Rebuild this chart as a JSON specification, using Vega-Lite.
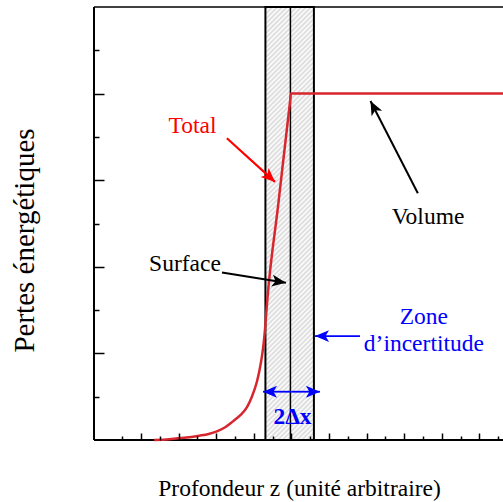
{
  "$schema": "https://vega.github.io/schema/vega-lite/v6.json",
  "usermeta": {"embedOptions": {"actions": false}},
  "width": 409,
  "height": 433,
  "autosize": {"type": "none"},
  "padding": {"left": 94, "top": 7, "right": 0, "bottom": 62},
  "background": "white",
  "config": {
    "view": {"stroke": null},
    "axis": {"grid": false, "domain": false},
    "axisRight": {"domain": false, "ticks": false, "labels": false, "title": null},
    "axisTop": {"domain": false, "ticks": false, "labels": false, "title": null}
  },
  "datasets": {
    "courbe": [
      {"z": 2.7, "p": 0}, {"z": 3.5, "p": 0.02}, {"z": 4.3, "p": 0.05}, {"z": 5.1, "p": 0.1},
      {"z": 5.6, "p": 0.14}, {"z": 6.04, "p": 0.2}, {"z": 6.5, "p": 0.3}, {"z": 6.89, "p": 0.43},
      {"z": 7.3, "p": 0.58}, {"z": 7.64, "p": 0.76}, {"z": 7.9, "p": 1.0}, {"z": 8.17, "p": 1.35},
      {"z": 8.31, "p": 1.62}, {"z": 8.44, "p": 1.95}, {"z": 8.53, "p": 2.25}, {"z": 8.6, "p": 2.56},
      {"z": 8.66, "p": 2.9}, {"z": 8.72, "p": 3.23}, {"z": 9.3, "p": 5.43}, {"z": 9.95, "p": 7.89},
      {"z": 9.98, "p": 8.0}, {"z": 21.26, "p": 8.0}
    ],
    "zone": [{"z": 8.62, "z2": 11.2, "p": 0, "p2": 10}],
    "centre": [{"z": 9.95, "p": 0, "p2": 10}],
    "cadre": [{"z": -0.5, "z2": 21.26, "p": 10}],
    "bordgauche": [{"z": -0.5, "p": 0, "p2": 10}],
    "bordbas": [{"z": -0.5, "z2": 21.26, "p": 0}],
    "fleches": [
      {"g": "total", "z0": 6.57, "p0": 6.97, "z": 9.13, "p": 5.96},
      {"g": "noir", "z0": 6.31, "p0": 3.87, "z": 9.71, "p": 3.63},
      {"g": "noir", "z0": 16.73, "p0": 5.7, "z": 14.21, "p": 7.83},
      {"g": "bleu", "z0": 13.65, "p0": 2.4, "z": 11.26, "p": 2.4},
      {"g": "bleu", "z0": 10.01, "p0": 1.115, "z": 8.49, "p": 1.115},
      {"g": "bleu", "z0": 10.01, "p0": 1.115, "z": 11.52, "p": 1.115}
    ],
    "textes": [
      {"texte": "Total", "z": 4.74, "p": 7.09, "g": "total"},
      {"texte": "Surface", "z": 4.34, "p": 3.9, "g": "noir"},
      {"texte": "Volume", "z": 17.27, "p": 4.99, "g": "noir"},
      {"texte": "Zone", "z": 17.05, "p": 2.68, "g": "bleu"},
      {"texte": "d’incertitude", "z": 17.05, "p": 2.06, "g": "bleu"}
    ],
    "largeur": [{"texte": "2Δx", "z": 10.06, "p": 0.37, "g": "bleu"}]
  },
  "encoding": {
    "x": {
      "field": "z", "type": "quantitative",
      "scale": {"domain": [-0.5, 21.26], "nice": false, "zero": false},
      "axis": {
        "title": "Profondeur z (unité arbitraire)", "orient": "bottom",
        "values": [1,2,3,4,5,6,7,8,9,10,11,12,13,14,15,16,17,18,19,20,21],
        "labels": false, "grid": false, "domain": false, "zindex": 1,
        "tickColor": "black", "tickWidth": 1.5,
        "tickSize": {"condition": {"test": "datum.value % 2 === 0", "value": -7}, "value": -4},
        "titleFont": "Liberation Serif", "titleFontSize": 23.5, "titleFontWeight": "normal",
        "titleColor": "black", "titleX": 205, "titleY": 55, "titleAlign": "center", "titleBaseline": "alphabetic"
      }
    },
    "y": {
      "field": "p", "type": "quantitative",
      "scale": {"domain": [0, 10], "nice": false, "zero": false},
      "axis": {
        "title": "Pertes énergétiques", "orient": "left",
        "values": [1,2,3,4,5,6,7,8,9],
        "labels": false, "grid": false, "domain": false, "zindex": 1,
        "tickColor": "black", "tickWidth": 1.5,
        "tickSize": {"condition": {"test": "datum.value % 2 === 0", "value": -10}, "value": -5},
        "titleFont": "Liberation Serif", "titleFontSize": 29, "titleFontWeight": "normal",
        "titleColor": "black", "titleAngle": -90, "titleX": -60.7, "titleY": 233,
        "titleAlign": "center", "titleBaseline": "alphabetic"
      }
    }
  },
  "layer": [
    {
      "data": {"name": "zone"},
      "mark": {"type": "rect", "stroke": "black", "strokeWidth": 2,
        "fill": {"gradient": "linear", "x1": 0, "y1": 0, "x2": 0.123, "y2": 1.098, "stops": [
          {"offset":0,"color":"#ffffff"},{"offset":0.005,"color":"#d8d8d8"},{"offset":0.01,"color":"#ffffff"},{"offset":0.015,"color":"#d8d8d8"},{"offset":0.02,"color":"#ffffff"},{"offset":0.025,"color":"#d8d8d8"},{"offset":0.03,"color":"#ffffff"},{"offset":0.035,"color":"#d8d8d8"},{"offset":0.04,"color":"#ffffff"},{"offset":0.045,"color":"#d8d8d8"},
          {"offset":0.05,"color":"#ffffff"},{"offset":0.055,"color":"#d8d8d8"},{"offset":0.06,"color":"#ffffff"},{"offset":0.065,"color":"#d8d8d8"},{"offset":0.07,"color":"#ffffff"},{"offset":0.075,"color":"#d8d8d8"},{"offset":0.08,"color":"#ffffff"},{"offset":0.085,"color":"#d8d8d8"},{"offset":0.09,"color":"#ffffff"},{"offset":0.095,"color":"#d8d8d8"},
          {"offset":0.1,"color":"#ffffff"},{"offset":0.105,"color":"#d8d8d8"},{"offset":0.11,"color":"#ffffff"},{"offset":0.115,"color":"#d8d8d8"},{"offset":0.12,"color":"#ffffff"},{"offset":0.125,"color":"#d8d8d8"},{"offset":0.13,"color":"#ffffff"},{"offset":0.135,"color":"#d8d8d8"},{"offset":0.14,"color":"#ffffff"},{"offset":0.145,"color":"#d8d8d8"},
          {"offset":0.15,"color":"#ffffff"},{"offset":0.155,"color":"#d8d8d8"},{"offset":0.16,"color":"#ffffff"},{"offset":0.165,"color":"#d8d8d8"},{"offset":0.17,"color":"#ffffff"},{"offset":0.175,"color":"#d8d8d8"},{"offset":0.18,"color":"#ffffff"},{"offset":0.185,"color":"#d8d8d8"},{"offset":0.19,"color":"#ffffff"},{"offset":0.195,"color":"#d8d8d8"},
          {"offset":0.2,"color":"#ffffff"},{"offset":0.205,"color":"#d8d8d8"},{"offset":0.21,"color":"#ffffff"},{"offset":0.215,"color":"#d8d8d8"},{"offset":0.22,"color":"#ffffff"},{"offset":0.225,"color":"#d8d8d8"},{"offset":0.23,"color":"#ffffff"},{"offset":0.235,"color":"#d8d8d8"},{"offset":0.24,"color":"#ffffff"},{"offset":0.245,"color":"#d8d8d8"},
          {"offset":0.25,"color":"#ffffff"},{"offset":0.255,"color":"#d8d8d8"},{"offset":0.26,"color":"#ffffff"},{"offset":0.265,"color":"#d8d8d8"},{"offset":0.27,"color":"#ffffff"},{"offset":0.275,"color":"#d8d8d8"},{"offset":0.28,"color":"#ffffff"},{"offset":0.285,"color":"#d8d8d8"},{"offset":0.29,"color":"#ffffff"},{"offset":0.295,"color":"#d8d8d8"},
          {"offset":0.3,"color":"#ffffff"},{"offset":0.305,"color":"#d8d8d8"},{"offset":0.31,"color":"#ffffff"},{"offset":0.315,"color":"#d8d8d8"},{"offset":0.32,"color":"#ffffff"},{"offset":0.325,"color":"#d8d8d8"},{"offset":0.33,"color":"#ffffff"},{"offset":0.335,"color":"#d8d8d8"},{"offset":0.34,"color":"#ffffff"},{"offset":0.345,"color":"#d8d8d8"},
          {"offset":0.35,"color":"#ffffff"},{"offset":0.355,"color":"#d8d8d8"},{"offset":0.36,"color":"#ffffff"},{"offset":0.365,"color":"#d8d8d8"},{"offset":0.37,"color":"#ffffff"},{"offset":0.375,"color":"#d8d8d8"},{"offset":0.38,"color":"#ffffff"},{"offset":0.385,"color":"#d8d8d8"},{"offset":0.39,"color":"#ffffff"},{"offset":0.395,"color":"#d8d8d8"},
          {"offset":0.4,"color":"#ffffff"},{"offset":0.405,"color":"#d8d8d8"},{"offset":0.41,"color":"#ffffff"},{"offset":0.415,"color":"#d8d8d8"},{"offset":0.42,"color":"#ffffff"},{"offset":0.425,"color":"#d8d8d8"},{"offset":0.43,"color":"#ffffff"},{"offset":0.435,"color":"#d8d8d8"},{"offset":0.44,"color":"#ffffff"},{"offset":0.445,"color":"#d8d8d8"},
          {"offset":0.45,"color":"#ffffff"},{"offset":0.455,"color":"#d8d8d8"},{"offset":0.46,"color":"#ffffff"},{"offset":0.465,"color":"#d8d8d8"},{"offset":0.47,"color":"#ffffff"},{"offset":0.475,"color":"#d8d8d8"},{"offset":0.48,"color":"#ffffff"},{"offset":0.485,"color":"#d8d8d8"},{"offset":0.49,"color":"#ffffff"},{"offset":0.495,"color":"#d8d8d8"},
          {"offset":0.5,"color":"#ffffff"},{"offset":0.505,"color":"#d8d8d8"},{"offset":0.51,"color":"#ffffff"},{"offset":0.515,"color":"#d8d8d8"},{"offset":0.52,"color":"#ffffff"},{"offset":0.525,"color":"#d8d8d8"},{"offset":0.53,"color":"#ffffff"},{"offset":0.535,"color":"#d8d8d8"},{"offset":0.54,"color":"#ffffff"},{"offset":0.545,"color":"#d8d8d8"},
          {"offset":0.55,"color":"#ffffff"},{"offset":0.555,"color":"#d8d8d8"},{"offset":0.56,"color":"#ffffff"},{"offset":0.565,"color":"#d8d8d8"},{"offset":0.57,"color":"#ffffff"},{"offset":0.575,"color":"#d8d8d8"},{"offset":0.58,"color":"#ffffff"},{"offset":0.585,"color":"#d8d8d8"},{"offset":0.59,"color":"#ffffff"},{"offset":0.595,"color":"#d8d8d8"},
          {"offset":0.6,"color":"#ffffff"},{"offset":0.605,"color":"#d8d8d8"},{"offset":0.61,"color":"#ffffff"},{"offset":0.615,"color":"#d8d8d8"},{"offset":0.62,"color":"#ffffff"},{"offset":0.625,"color":"#d8d8d8"},{"offset":0.63,"color":"#ffffff"},{"offset":0.635,"color":"#d8d8d8"},{"offset":0.64,"color":"#ffffff"},{"offset":0.645,"color":"#d8d8d8"},
          {"offset":0.65,"color":"#ffffff"},{"offset":0.655,"color":"#d8d8d8"},{"offset":0.66,"color":"#ffffff"},{"offset":0.665,"color":"#d8d8d8"},{"offset":0.67,"color":"#ffffff"},{"offset":0.675,"color":"#d8d8d8"},{"offset":0.68,"color":"#ffffff"},{"offset":0.685,"color":"#d8d8d8"},{"offset":0.69,"color":"#ffffff"},{"offset":0.695,"color":"#d8d8d8"},
          {"offset":0.7,"color":"#ffffff"},{"offset":0.705,"color":"#d8d8d8"},{"offset":0.71,"color":"#ffffff"},{"offset":0.715,"color":"#d8d8d8"},{"offset":0.72,"color":"#ffffff"},{"offset":0.725,"color":"#d8d8d8"},{"offset":0.73,"color":"#ffffff"},{"offset":0.735,"color":"#d8d8d8"},{"offset":0.74,"color":"#ffffff"},{"offset":0.745,"color":"#d8d8d8"},
          {"offset":0.75,"color":"#ffffff"},{"offset":0.755,"color":"#d8d8d8"},{"offset":0.76,"color":"#ffffff"},{"offset":0.765,"color":"#d8d8d8"},{"offset":0.77,"color":"#ffffff"},{"offset":0.775,"color":"#d8d8d8"},{"offset":0.78,"color":"#ffffff"},{"offset":0.785,"color":"#d8d8d8"},{"offset":0.79,"color":"#ffffff"},{"offset":0.795,"color":"#d8d8d8"},
          {"offset":0.8,"color":"#ffffff"},{"offset":0.805,"color":"#d8d8d8"},{"offset":0.81,"color":"#ffffff"},{"offset":0.815,"color":"#d8d8d8"},{"offset":0.82,"color":"#ffffff"},{"offset":0.825,"color":"#d8d8d8"},{"offset":0.83,"color":"#ffffff"},{"offset":0.835,"color":"#d8d8d8"},{"offset":0.84,"color":"#ffffff"},{"offset":0.845,"color":"#d8d8d8"},
          {"offset":0.85,"color":"#ffffff"},{"offset":0.855,"color":"#d8d8d8"},{"offset":0.86,"color":"#ffffff"},{"offset":0.865,"color":"#d8d8d8"},{"offset":0.87,"color":"#ffffff"},{"offset":0.875,"color":"#d8d8d8"},{"offset":0.88,"color":"#ffffff"},{"offset":0.885,"color":"#d8d8d8"},{"offset":0.89,"color":"#ffffff"},{"offset":0.895,"color":"#d8d8d8"},
          {"offset":0.9,"color":"#ffffff"},{"offset":0.905,"color":"#d8d8d8"},{"offset":0.91,"color":"#ffffff"},{"offset":0.915,"color":"#d8d8d8"},{"offset":0.92,"color":"#ffffff"},{"offset":0.925,"color":"#d8d8d8"},{"offset":0.93,"color":"#ffffff"},{"offset":0.935,"color":"#d8d8d8"},{"offset":0.94,"color":"#ffffff"},{"offset":0.945,"color":"#d8d8d8"},
          {"offset":0.95,"color":"#ffffff"},{"offset":0.955,"color":"#d8d8d8"},{"offset":0.96,"color":"#ffffff"},{"offset":0.965,"color":"#d8d8d8"},{"offset":0.97,"color":"#ffffff"},{"offset":0.975,"color":"#d8d8d8"},{"offset":0.98,"color":"#ffffff"},{"offset":0.985,"color":"#d8d8d8"},{"offset":0.99,"color":"#ffffff"},{"offset":0.995,"color":"#d8d8d8"},
          {"offset":1,"color":"#ffffff"}
        ]}
      },
      "encoding": {"x2": {"field": "z2"}, "y2": {"field": "p2"}}
    },
    {
      "data": {"name": "centre"},
      "mark": {"type": "rule", "color": "black", "strokeWidth": 1.5},
      "encoding": {"y2": {"field": "p2"}}
    },
    {
      "data": {"name": "cadre"},
      "mark": {"type": "rule", "color": "black", "strokeWidth": 1.5},
      "encoding": {"x2": {"field": "z2"}}
    },
    {
      "data": {"name": "bordgauche"},
      "mark": {"type": "rule", "color": "black", "strokeWidth": 2},
      "encoding": {"y2": {"field": "p2"}}
    },
    {
      "data": {"name": "bordbas"},
      "mark": {"type": "rule", "color": "black", "strokeWidth": 2},
      "encoding": {"x2": {"field": "z2"}}
    },
    {
      "data": {"name": "courbe"},
      "mark": {"type": "line", "color": "#d7262e", "strokeWidth": 2.5, "interpolate": "monotone"},
      "encoding": {}
    },
    {
      "data": {"name": "fleches"},
      "mark": {"type": "rule"},
      "encoding": {
        "x2": {"field": "z0"},
        "y2": {"field": "p0"},
        "color": {"field": "g", "type": "nominal", "scale": {"domain": ["total", "noir", "bleu"], "range": ["#ff0000", "#000000", "#0000ff"]}, "legend": null},
        "strokeWidth": {"field": "g", "type": "nominal", "scale": {"domain": ["total", "noir", "bleu"], "range": [2.2, 1.8, 2.8]}, "legend": null}
      }
    },
    {
      "data": {"name": "fleches"},
      "transform": [{"calculate": "atan2(-(datum.p - datum.p0) * 43.3, (datum.z - datum.z0) * 18.8) * 180 / PI", "as": "angle"}],
      "mark": {"type": "point", "filled": true, "opacity": 1, "strokeWidth": 0, "size": 196, "shape": "M0,0L-2,-0.85L-1.5,0L-2,0.85Z"},
      "encoding": {
        "angle": {"field": "angle", "type": "quantitative", "scale": null},
        "color": {"field": "g", "type": "nominal", "scale": {"domain": ["total", "noir", "bleu"], "range": ["#ff0000", "#000000", "#0000ff"]}, "legend": null}
      }
    },
    {
      "data": {"name": "textes"},
      "mark": {"type": "text", "font": "Liberation Serif", "fontSize": 23.5, "align": "center", "baseline": "alphabetic"},
      "encoding": {
        "text": {"field": "texte"},
        "color": {"field": "g", "type": "nominal", "scale": {"domain": ["total", "noir", "bleu"], "range": ["#ff0000", "#000000", "#0000ff"]}, "legend": null}
      }
    },
    {
      "data": {"name": "largeur"},
      "mark": {"type": "text", "font": "Liberation Serif", "fontSize": 23.5, "fontWeight": "bold", "align": "center", "baseline": "alphabetic"},
      "encoding": {
        "text": {"field": "texte"},
        "color": {"field": "g", "type": "nominal", "scale": {"domain": ["total", "noir", "bleu"], "range": ["#ff0000", "#000000", "#0000ff"]}, "legend": null}
      }
    }
  ]
}
